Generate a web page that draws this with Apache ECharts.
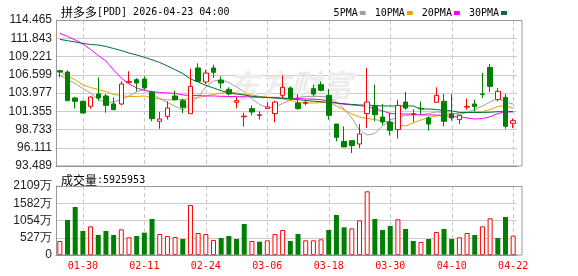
<!DOCTYPE html>
<html><head><meta charset="utf-8">
<script src="https://cdn.jsdelivr.net/npm/echarts@6/dist/echarts.min.js"></script>
<style>html,body{margin:0;padding:0;background:#fff}#c{width:578px;height:276px}</style>
</head><body><div id="c"></div>
<script>
const dates = ['01-27','01-28','01-29','01-30','02-02','02-03','02-04','02-05','02-06','02-09',
  '02-10','02-11','02-12','02-13','02-17','02-18','02-19','02-20','02-23','02-24',
  '02-25','02-26','02-27','03-02','03-03','03-04','03-05','03-06','03-09','03-10',
  '03-11','03-12','03-13','03-16','03-17','03-18','03-19','03-20','03-23','03-24',
  '03-25','03-26','03-27','03-30','03-31','04-01','04-02','04-06','04-07','04-08',
  '04-09','04-10','04-13','04-14','04-15','04-16','04-17','04-20','04-21','04-22'];
const tickDates = ['01-30','02-11','02-24','03-06','03-18','03-30','04-10','04-22'];

const opens = [107.18,106.99,103.26,102.78,102.06,103.83,103.55,102.40,102.40,105.46,
  105.89,105.99,104.12,99.91,100.62,103.55,102.87,101.01,107.57,105.56,
  107.57,105.84,104.50,102.64,100.55,101.73,100.75,101.73,101.01,103.64,
  104.70,102.54,102.50,104.60,105.17,103.64,99.52,97.03,97.13,96.65,
  101.01,102.06,100.53,99.81,98.71,102.68,100.90,101.78,100.39,102.64,
  102.78,100.96,100.15,101.95,102.40,103.85,107.66,103.02,103.35,99.62];
const closes = [106.99,102.87,102.78,101.10,103.40,103.26,102.20,101.58,105.27,105.61,
  105.41,104.70,100.29,100.24,101.82,103.02,101.92,104.93,105.65,106.85,
  106.95,105.41,103.83,102.88,100.65,101.25,100.85,101.97,102.68,104.79,
  103.16,101.73,102.62,103.83,104.36,100.77,97.61,96.22,96.41,98.09,
  102.68,100.86,99.81,98.61,102.20,101.82,101.00,101.70,99.52,103.64,
  99.91,100.39,100.77,102.05,102.01,103.78,104.93,104.22,99.19,100.00];
const lows = [106.23,102.87,101.73,101.10,101.73,102.87,101.15,101.58,102.20,105.37,
  104.22,104.46,99.91,98.85,100.15,102.90,101.10,101.01,105.56,105.27,
  106.13,104.60,103.64,101.78,99.15,100.77,100.15,101.73,99.76,103.26,
  103.02,101.58,102.20,103.50,104.22,100.15,97.03,96.22,95.36,96.07,
  98.95,99.91,99.33,97.89,97.42,101.58,99.80,100.90,98.57,102.64,
  99.19,100.00,99.52,101.58,101.34,103.26,104.12,102.78,98.85,98.95];
const highs = [107.33,107.23,103.40,102.87,103.50,106.23,103.83,103.35,105.65,107.09,
  106.13,106.37,104.31,101.25,102.78,104.31,103.16,107.47,108.24,107.33,
  108.05,106.37,104.79,103.40,101.15,102.20,101.34,102.68,102.87,106.52,
  104.93,103.83,103.02,105.17,105.65,104.55,99.52,99.19,97.13,99.52,
  107.57,105.17,102.40,101.10,103.02,104.12,101.65,102.75,100.62,104.79,
  103.83,103.83,100.77,103.16,103.02,106.85,108.14,104.70,103.83,100.29];

const ma5 = [106.53,105.92,105.34,104.62,103.98,103.04,102.61,102.68,103.04,103.55,
  104.12,104.55,103.83,103.19,102.61,102.07,101.53,102.40,103.40,104.84,
  105.70,105.85,105.49,104.84,104.12,103.12,102.33,101.89,101.97,102.47,
  102.97,103.33,103.48,103.50,103.48,103.40,102.68,101.68,100.39,98.66,
  97.94,98.16,99.24,100.10,100.53,100.74,100.82,100.89,101.03,101.25,
  101.18,101.03,100.89,101.18,101.61,102.11,102.68,103.19,102.68,102.40];
const ma10 = [107.07,106.42,105.85,105.13,104.77,104.48,104.19,103.76,103.62,103.45,
  103.48,103.55,103.29,103.12,103.00,103.00,103.04,103.19,103.33,103.55,
  103.76,103.98,104.05,103.98,103.76,103.69,103.48,103.40,103.33,103.12,
  102.90,102.61,102.54,102.54,102.58,102.68,102.11,101.54,100.96,100.53,
  100.31,100.17,99.95,99.81,99.38,99.24,99.67,100.10,100.46,100.67,
  100.82,100.96,101.10,101.21,101.25,101.29,101.61,102.04,102.18,101.75];
const ma20 = [112.55,112.09,111.59,111.02,110.23,109.36,108.57,107.28,106.13,105.27,
  104.70,104.34,104.17,104.05,103.98,103.94,103.69,103.62,103.62,103.55,
  103.55,103.50,103.48,103.45,103.45,103.40,103.36,103.33,103.30,103.26,
  103.19,103.19,103.12,103.08,103.02,102.83,102.54,102.35,102.26,102.18,
  101.97,101.75,101.39,101.06,100.96,100.96,100.96,100.82,100.82,100.82,
  100.74,100.57,100.57,100.39,100.24,100.31,100.57,101.03,101.25,101.29];
const ma30 = [111.69,111.49,111.31,111.09,110.95,110.87,110.66,110.37,110.08,109.72,
  109.44,109.11,108.75,108.36,107.86,107.33,106.78,106.00,105.56,105.06,
  104.70,104.31,104.05,103.83,103.69,103.50,103.40,103.33,103.26,103.19,
  103.12,103.02,102.90,102.79,102.73,102.61,102.54,102.44,102.33,102.26,
  102.23,102.18,102.11,102.11,102.11,102.11,102.11,101.68,101.68,101.61,
  101.43,101.43,101.18,101.18,101.18,101.18,101.21,101.29,101.29,101.29];

// volume in 万 shares
const volumes = [428,1070,1467,734,876,611,734,611,785,540,
  581,683,1100,642,581,550,489,1529,672,642,
  459,520,581,489,948,428,407,448,642,764,
  428,642,448,448,479,764,1223,846,815,1060,
  1947,1100,764,887,1091,795,428,397,489,703,
  795,489,540,672,611,876,1121,520,1162,592.5953];
const volUp = [1,0,0,0,1,0,0,0,1,1, 0,0,0,1,1,1,0,1,1,1,
  1,0,0,0,0,1,0,1,1,1, 0,0,1,1,1,0,0,0,1,1,
  1,0,0,0,1,0,0,1,0,1, 0,0,1,1,0,1,1,0,0,1];

const priceTicks = [93.489,96.111,98.733,101.355,103.977,106.599,109.221,111.843,114.465];
const volTicks = [0,527,1054,1582,2109];

const RED = '#ff0000', GREEN = '#008000';
const MONO = '"DejaVu Sans Mono", monospace';
const SANS = '"Liberation Sans", Arial, sans-serif';
const CJK = '"Noto Sans CJK SC", sans-serif';

const isTick = (i) => tickDates.indexOf(dates[i]) >= 0;
const chart = echarts.init(document.getElementById('c'), null, {renderer: 'canvas'});

const maSeries = [['5PMA', ma5, '#a0a0a0'], ['10PMA', ma10, '#f0a000'], ['20PMA', ma20, '#ff00ff'], ['30PMA', ma30, '#006f35']]
  .map(([name, data, color]) => ({
    name, type: 'line', data, xAxisIndex: 0, yAxisIndex: 0, symbol: 'none', smooth: false,
    color, lineStyle: {width: 1, color}, z: 3, animation: false
  }));

const richTitle = {
  a: {fontFamily: CJK, fontSize: 12, fontWeight: 'normal', color: '#000'},
  b: {fontFamily: MONO, fontSize: 10, fontWeight: 'normal', color: '#000'}
};

const staticGraphics = [
  {id: 'wm', type: 'text', left: 228, top: 70, z: 1, silent: true,
    style: {text: '东方财富', font: 'italic bold 31px "Noto Sans CJK SC"', fill: '#ececec'}},
  {id: 'frame0', type: 'rect', z: 100, silent: true, shape: {x: 56.5, y: 20.5, width: 465.5, height: 145.5}, style: {fill: 'none', stroke: '#999', lineWidth: 1}},
  {id: 'frame1', type: 'rect', z: 100, silent: true, shape: {x: 56.5, y: 186.5, width: 465.5, height: 68.5}, style: {fill: 'none', stroke: '#999', lineWidth: 1}}
];

chart.setOption({
  animation: false,
  backgroundColor: '#fff',
  title: [
    {left: 56, top: 1, text: '{a|拼多多}{b|[PDD] 2026-04-23 04:00}',
      textStyle: {fontWeight: 'normal', rich: richTitle}},
    {left: 56, top: 169, text: '{a|成交量}{b|:5925953}',
      textStyle: {fontWeight: 'normal', rich: richTitle}}
  ],
  legend: {
    right: 66, top: 3, align: 'right', itemGap: 9, itemWidth: 6, itemHeight: 4, icon: 'rect',
    data: ['5PMA', '10PMA', '20PMA', '30PMA'],
    textStyle: {fontFamily: MONO, fontSize: 10, color: '#000', padding: [0, -3, 0, 0]},
    selectedMode: false
  },
  grid: [
    {left: 56, top: 20, width: 461, height: 146},
    {left: 56, top: 186, width: 461, height: 69}
  ],
  xAxis: [
    {type: 'category', gridIndex: 0, data: dates, boundaryGap: true,
      axisLine: {show: true, lineStyle: {color: '#888'}}, axisTick: {show: false},
      axisLabel: {show: false}, splitLine: {show: false}},
    {type: 'category', gridIndex: 1, data: dates, boundaryGap: true,
      axisLine: {show: true, lineStyle: {color: '#888'}}, axisTick: {show: false},
      axisLabel: {show: true, interval: (i) => isTick(i), color: RED, fontFamily: MONO, fontSize: 10, margin: 6},
      splitLine: {show: false}}
  ],
  yAxis: [
    {type: 'value', gridIndex: 0, min: priceTicks[0], max: priceTicks[priceTicks.length - 1],
      axisLine: {show: true, lineStyle: {color: '#888'}},
      axisTick: {show: false, customValues: priceTicks},
      axisLabel: {customValues: priceTicks, formatter: (v) => v.toFixed(3), fontFamily: SANS, fontSize: 12, color: '#222', margin: 4},
      splitLine: {show: true, lineStyle: {color: '#ccc'}}},
    {type: 'value', gridIndex: 1, min: volTicks[0], max: volTicks[volTicks.length - 1],
      axisLine: {show: true, lineStyle: {color: '#888'}},
      axisTick: {show: false, customValues: volTicks},
      axisLabel: {customValues: volTicks, formatter: (v) => v === 0 ? '0' : Math.round(v) + '万', fontFamily: SANS, fontSize: 12, color: '#222', margin: 4},
      splitLine: {show: true, lineStyle: {color: '#ccc'}}}
  ],
  graphic: staticGraphics,
  series: [
    {name: 'K', type: 'candlestick', xAxisIndex: 0, yAxisIndex: 0, barWidth: 5, z: 4,
      data: dates.map((d, i) => [opens[i], closes[i], lows[i], highs[i]]),
      itemStyle: {color: '#fff', color0: GREEN, borderColor: RED, borderColor0: GREEN, borderWidth: 1}},
    ...maSeries,
    {name: 'VOL', type: 'bar', xAxisIndex: 1, yAxisIndex: 1, barWidth: 5, z: 3,
      data: volumes.map((v, i) => ({value: v,
        itemStyle: volUp[i] ? {color: '#fff', borderColor: RED, borderWidth: 1} : {color: GREEN, borderColor: GREEN, borderWidth: 0}}))}
  ]
});

// vertical dashed guide lines at the labelled dates, positioned through the library's own axes
const guides = [];
tickDates.forEach((d, k) => {
  [[0, priceTicks[0], priceTicks[priceTicks.length - 1]], [1, volTicks[0], volTicks[volTicks.length - 1]]].forEach(([g, lo, hi]) => {
    const p0 = chart.convertToPixel({xAxisIndex: g, yAxisIndex: g}, [d, lo]);
    const p1 = chart.convertToPixel({xAxisIndex: g, yAxisIndex: g}, [d, hi]);
    const x = Math.round(p0[0]) + 0.5;
    guides.push({id: 'guide' + g + '_' + k, type: 'line', z: 0, silent: true,
      shape: {x1: x, y1: p1[1], x2: x, y2: p0[1]},
      style: {stroke: '#c8c8c8', lineWidth: 1, lineDash: [4, 3]}});
  });
});
chart.setOption({graphic: staticGraphics.concat(guides)});
</script>
</body></html>
